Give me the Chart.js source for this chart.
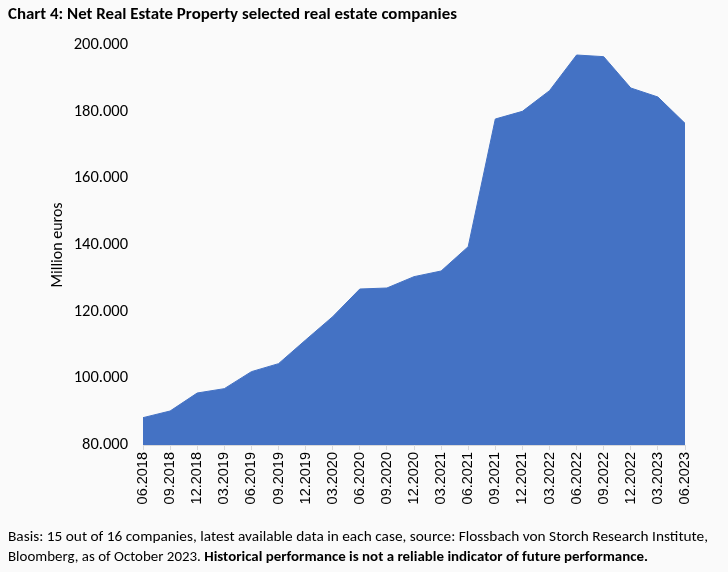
<!DOCTYPE html>
<html><head><meta charset="utf-8">
<script src="https://cdn.jsdelivr.net/npm/chart.js@4"></script>
<style>
html,body{margin:0;padding:0;background:#fafafa;}
#wrap{position:relative;width:728px;height:572px;overflow:hidden;background:#fafafa;}
#c{position:absolute;left:0;top:0;}
.t{position:absolute;left:8px;white-space:nowrap;color:#000;font-family:Carlito,'Liberation Sans Narrow',Lato,sans-serif;transform-origin:0 50%;line-height:18px;}
</style></head>
<body><div id="wrap"><canvas id="c" width="728" height="572"></canvas>
<div id="title" class="t" style="top:5px;font-weight:bold;font-size:15px;" data-w="449">Chart 4: Net Real Estate Property selected real estate companies</div>
<div id="f1" class="t" style="top:528px;font-size:14px" data-w="700">Basis: 15 out of 16 companies, latest available data in each case, source: Flossbach von Storch Research Institute,</div>
<div id="f2" class="t" style="top:548px;font-size:14px" data-w="640">Bloomberg, as of October 2023. <b>Historical performance is not a reliable indicator of future performance.</b></div>
</div>
<script>
const categories = ["06.2018","09.2018","12.2018","03.2019","06.2019","09.2019","12.2019","03.2020","06.2020","09.2020","12.2020","03.2021","06.2021","09.2021","12.2021","03.2022","06.2022","09.2022","12.2022","03.2023","06.2023"];
const netRealEstate = [88200,90200,95600,96900,102000,104400,111500,118500,126800,127100,130500,132200,139500,177800,180100,186300,197000,196500,187100,184400,176500];
const yTicks = [80000,100000,120000,140000,160000,180000,200000];
const yAxisTitle = "Million euros";

document.querySelectorAll('.t').forEach(el=>{
  const w = el.getBoundingClientRect().width;
  const target = +el.dataset.w;
  el.style.transform = 'scaleX(' + (target / w) + ')';
});

function fmt(v){ return String(v).replace(/\B(?=(\d{3})+(?!\d))/g,'.'); }

new Chart(document.getElementById('c'), {
  type: 'line',
  data: {
    labels: categories,
    datasets: [{
      data: netRealEstate,
      backgroundColor: '#4472c4',
      borderColor: '#4472c4',
      borderWidth: 1,
      pointRadius: 0,
      fill: 'start',
      tension: 0
    }]
  },
  options: {
    responsive: false,
    animation: false,
    layout: { padding: { top: 45, right: 43, left: 0, bottom: 0 } },
    plugins: { legend: { display: false }, tooltip: { enabled: false } },
    scales: {
      x: {
        offset: false,
        grid: { display: true, drawOnChartArea: false, drawTicks: true, tickLength: 5, color: '#d9d9d9' },
        border: { display: true, color: '#d9d9d9', width: 1 },
        ticks: { minRotation: 90, maxRotation: 90, autoSkip: false, padding: 2, color: '#000', font: { family: "'Liberation Sans', Arial, sans-serif", size: 14.5 } },
        afterFit: s => { s.height = 127; }
      },
      y: {
        min: 80000, max: 200000,
        afterBuildTicks: s => { s.ticks = yTicks.map(v => ({ value: v })); },
        grid: { display: false, drawTicks: false },
        border: { display: false },
        ticks: { padding: 15, color: '#000', font: { family: "Carlito, Lato, sans-serif", size: 16.5 }, callback: v => fmt(v) },
        title: { display: true, text: yAxisTitle, color: '#000', padding: { top: 48, bottom: 0 }, font: { family: "Carlito, Lato, sans-serif", size: 16 } },
        afterFit: s => { s.width = 143; }
      }
    }
  }
});
</script>
</body></html>
